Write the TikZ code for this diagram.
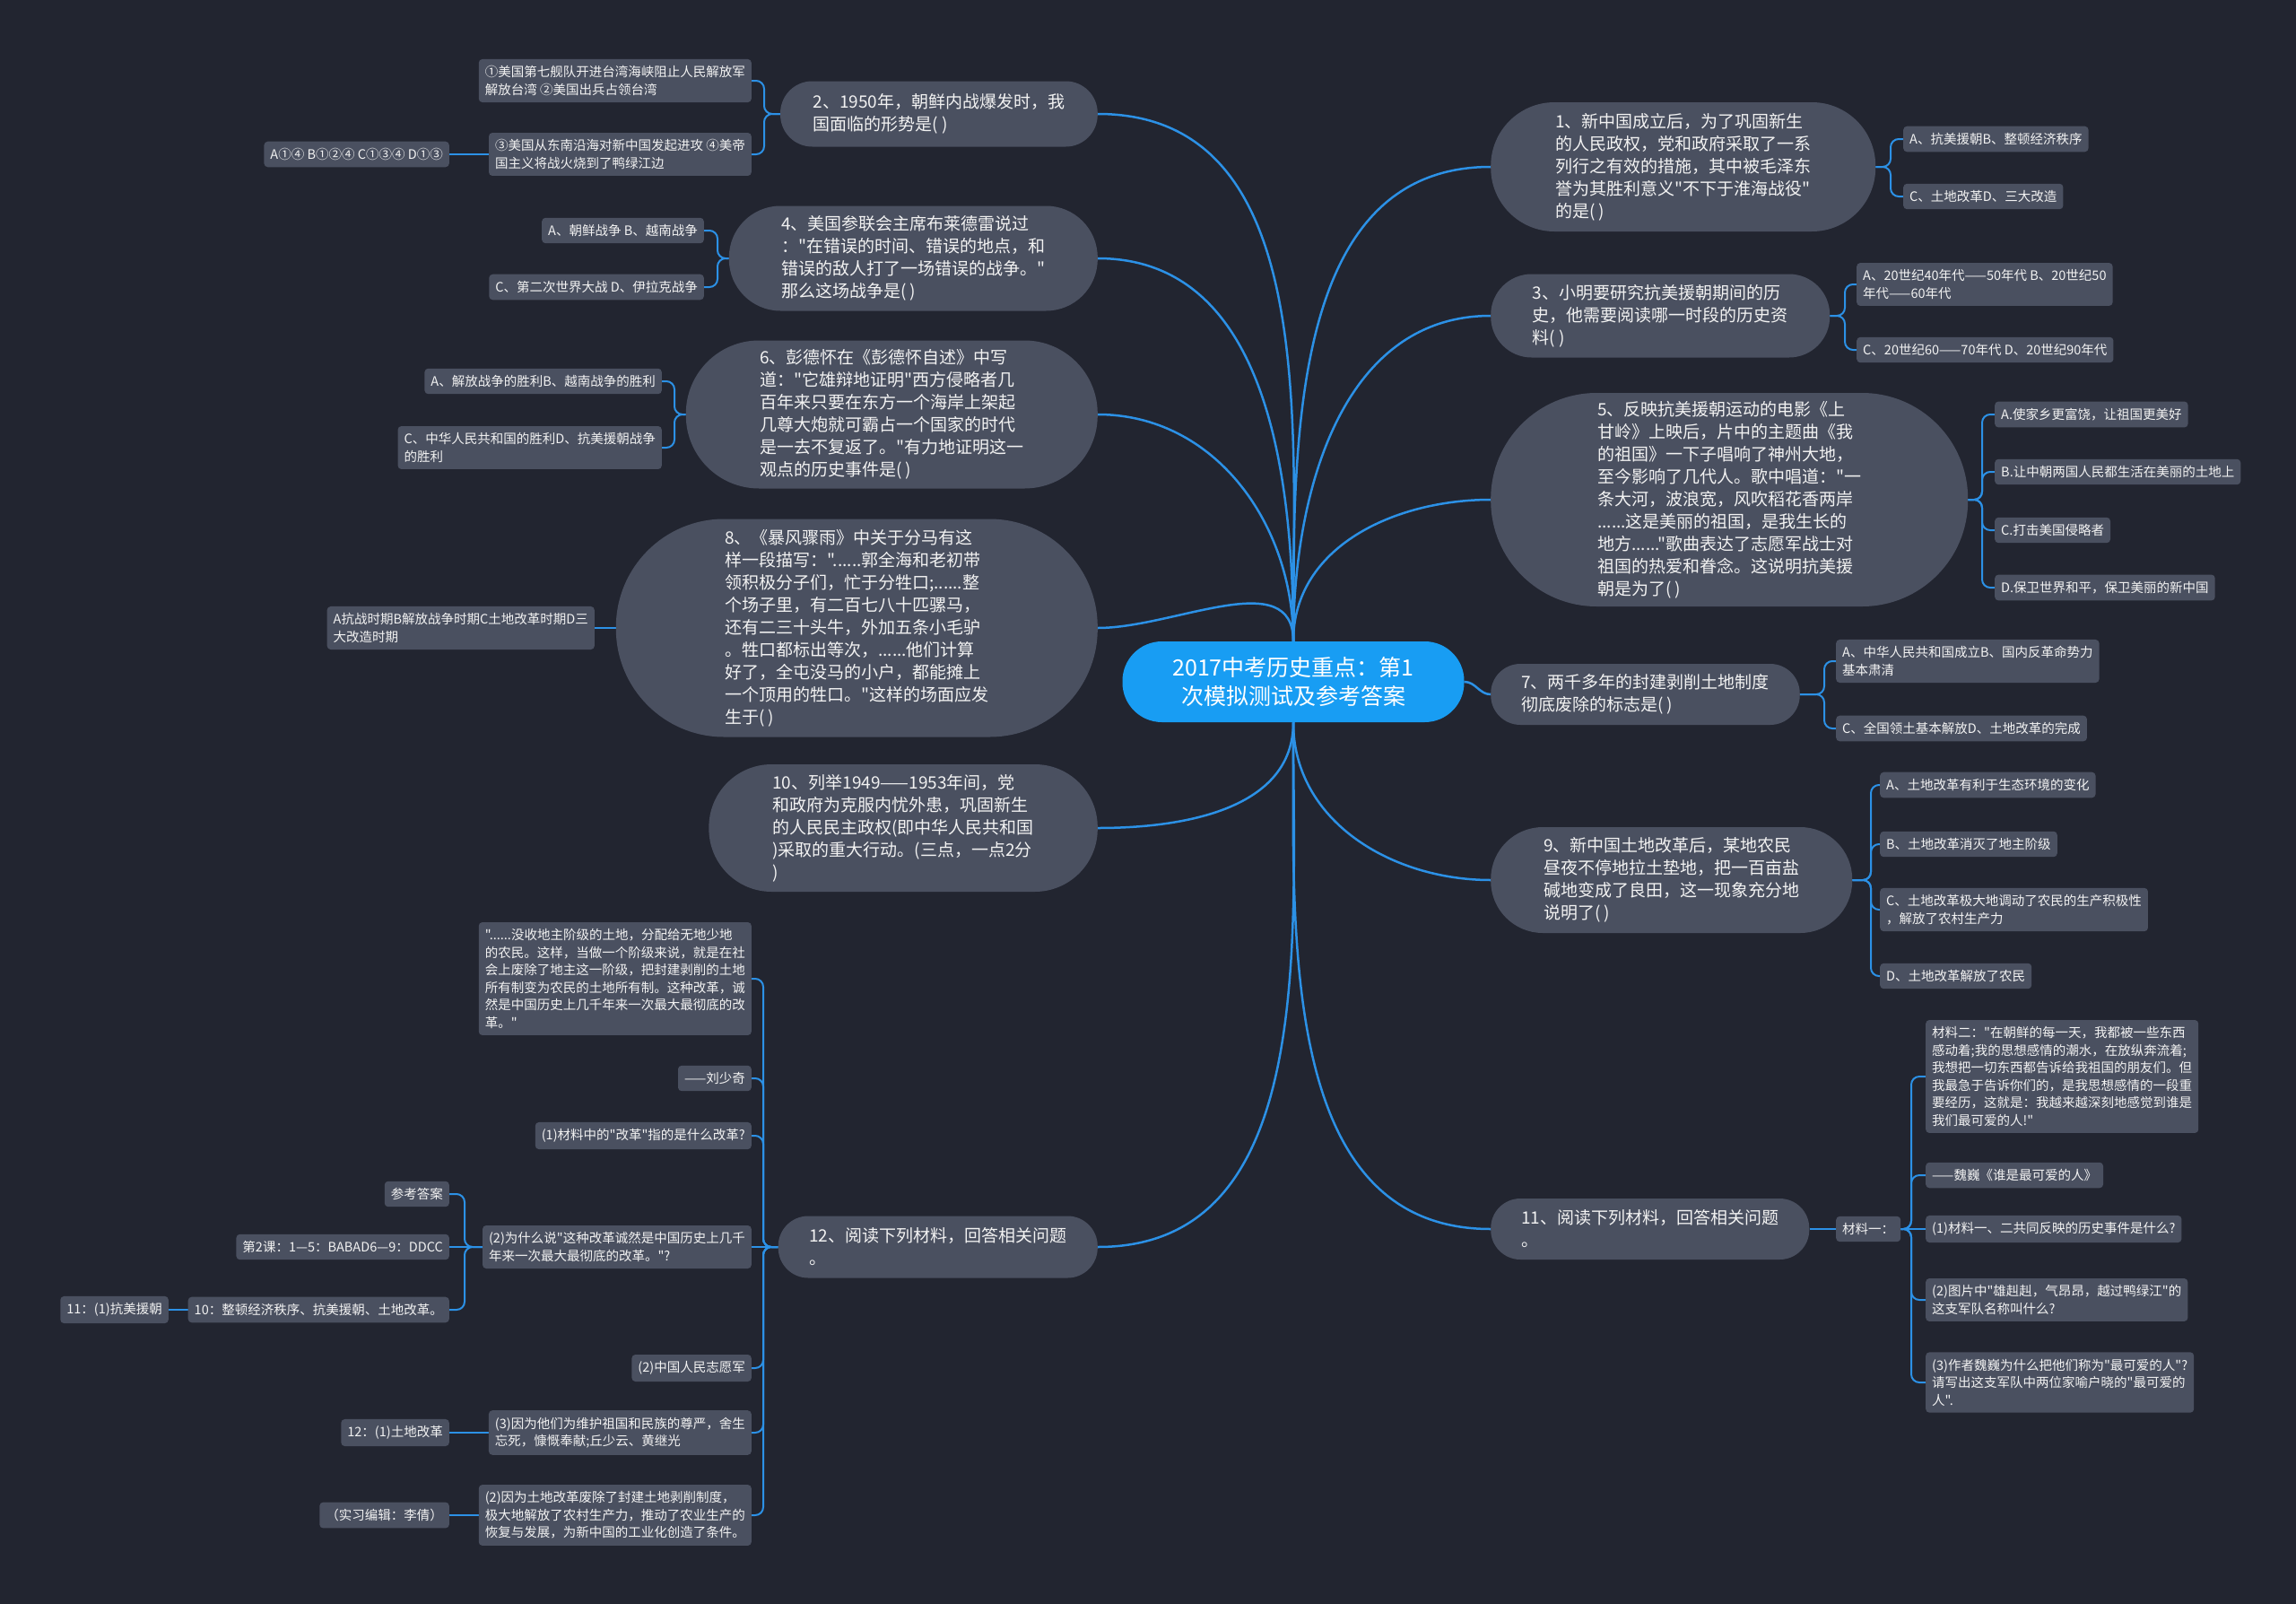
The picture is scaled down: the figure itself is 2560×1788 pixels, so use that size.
\documentclass[tikz,border=0pt]{standalone}
\usepackage{fontspec}
\setmainfont{Noto Sans CJK SC}[Ligatures=TeXOff]
\usetikzlibrary{calc, backgrounds}

\definecolor{bgcol}{HTML}{222530}
\definecolor{boxfill}{HTML}{4A5060}
\definecolor{linkblue}{HTML}{2C91E6}
\definecolor{rootblue}{HTML}{189DF3}
\definecolor{txtcol}{HTML}{F2F2F2}

\tikzset{
  hub/.style={fill=rootblue, text=white, align=center, font=\fontsize{25}{32}\selectfont,
    minimum width=381, minimum height=90, inner sep=0pt, rounded corners=44},
  topic/.style={fill=boxfill, text=txtcol, align=left, font=\fontsize{19}{25}\selectfont,
    minimum height=#1, inner xsep={#1/2}, inner ysep=0pt, rounded corners={#1/2-1}},
  leaf/.style={fill=boxfill, text=txtcol, align=left, font=\fontsize{14.5}{19.5}\selectfont,
    inner xsep=7pt, inner ysep=7.5pt, rounded corners=4pt},
  trunk/.style={draw=linkblue, line width=2.5pt},
  twig/.style={draw=linkblue, line width=2pt, rounded corners=9pt},
}

\begin{document}
\begin{tikzpicture}[x=1pt, y=1pt]
  \node[hub] (root) at (1442,-760) {2017中考历史重点：第1\\次模拟测试及参考答案};

  \node[topic=73, anchor=east] (n2) at (1224,-127) {2、1950年，朝鲜内战爆发时，我\\国面临的形势是( )};
  \node[topic=117, anchor=east] (n4) at (1224,-288) {4、美国参联会主席布莱德雷说过\\："在错误的时间、错误的地点，和\\错误的敌人打了一场错误的战争。"\\那么这场战争是( )};
  \node[topic=165, anchor=east] (n6) at (1224,-462) {6、彭德怀在《彭德怀自述》中写\\道："它雄辩地证明"西方侵略者几\\百年来只要在东方一个海岸上架起\\几尊大炮就可霸占一个国家的时代\\是一去不复返了。"有力地证明这一\\观点的历史事件是( )};
  \node[topic=243, anchor=east] (n8) at (1224,-700) {8、《暴风骤雨》中关于分马有这\\样一段描写："......郭全海和老初带\\领积极分子们，忙于分牲口;......整\\个场子里，有二百七八十匹骡马，\\还有二三十头牛，外加五条小毛驴\\。牲口都标出等次，......他们计算\\好了，全屯没马的小户，都能摊上\\一个顶用的牲口。"这样的场面应发\\生于( )};
  \node[topic=142, anchor=east] (n10) at (1224,-923) {10、列举1949——1953年间，党\\和政府为克服内忧外患，巩固新生\\的人民民主政权(即中华人民共和国\\)采取的重大行动。(三点，一点2分\\)};
  \node[topic=69, anchor=east] (n12) at (1224,-1390) {12、阅读下列材料，回答相关问题\\。};

  \node[topic=144, anchor=west] (n1) at (1662,-186) {1、新中国成立后，为了巩固新生\\的人民政权，党和政府采取了一系\\列行之有效的措施，其中被毛泽东\\誉为其胜利意义"不下于淮海战役"\\的是( )};
  \node[topic=93, anchor=west] (n3) at (1662,-352) {3、小明要研究抗美援朝期间的历\\史，他需要阅读哪一时段的历史资\\料( )};
  \node[topic=238, anchor=west] (n5) at (1662,-557) {5、反映抗美援朝运动的电影《上\\甘岭》上映后，片中的主题曲《我\\的祖国》一下子唱响了神州大地，\\至今影响了几代人。歌中唱道："一\\条大河，波浪宽，风吹稻花香两岸\\......这是美丽的祖国，是我生长的\\地方......"歌曲表达了志愿军战士对\\祖国的热爱和眷念。这说明抗美援\\朝是为了( )};
  \node[topic=68, anchor=west] (n7) at (1662,-774) {7、两千多年的封建剥削土地制度\\彻底废除的标志是( )};
  \node[topic=118, anchor=west] (n9) at (1662,-981) {9、新中国土地改革后，某地农民\\昼夜不停地拉土垫地，把一百亩盐\\碱地变成了良田，这一现象充分地\\说明了( )};
  \node[topic=68, anchor=west] (n11) at (1662,-1370) {11、阅读下列材料，回答相关问题\\。};

  \node[leaf, anchor=east] (l2a) at (838,-90) {①美国第七舰队开进台湾海峡阻止人民解放军\\解放台湾 ②美国出兵占领台湾};
  \node[leaf, anchor=east] (l2b) at (838,-172) {③美国从东南沿海对新中国发起进攻 ④美帝\\国主义将战火烧到了鸭绿江边};
  \node[leaf, anchor=east] (l2c) at (501,-172) {A①④ B①②④ C①③④ D①③};
  \node[leaf, anchor=east] (l4a) at (785,-257) {A、朝鲜战争 B、越南战争};
  \node[leaf, anchor=east] (l4b) at (785,-320) {C、第二次世界大战 D、伊拉克战争};
  \node[leaf, anchor=east] (l6a) at (738,-425) {A、解放战争的胜利B、越南战争的胜利};
  \node[leaf, anchor=east] (l6b) at (738,-499) {C、中华人民共和国的胜利D、抗美援朝战争\\的胜利};
  \node[leaf, anchor=east] (l8a) at (663,-700) {A抗战时期B解放战争时期C土地改革时期D三\\大改造时期};

  \node[leaf, anchor=east] (l12a) at (838,-1091) {"......没收地主阶级的土地，分配给无地少地\\的农民。这样，当做一个阶级来说，就是在社\\会上废除了地主这一阶级，把封建剥削的土地\\所有制变为农民的土地所有制。这种改革，诚\\然是中国历史上几千年来一次最大最彻底的改\\革。"};
  \node[leaf, anchor=east] (l12b) at (838,-1202) {——刘少奇};
  \node[leaf, anchor=east] (l12c) at (838,-1266) {(1)材料中的"改革"指的是什么改革?};
  \node[leaf, anchor=east] (l12d) at (838,-1390) {(2)为什么说"这种改革诚然是中国历史上几千\\年来一次最大最彻底的改革。"?};
  \node[leaf, anchor=east] (l12e) at (501,-1331) {参考答案};
  \node[leaf, anchor=east] (l12f) at (501,-1390) {第2课：1—5：BABAD6—9：DDCC};
  \node[leaf, anchor=east] (l12g) at (501,-1460) {10：整顿经济秩序、抗美援朝、土地改革。};
  \node[leaf, anchor=east] (l12h) at (188,-1460) {11：(1)抗美援朝};
  \node[leaf, anchor=east] (l12i) at (838,-1525) {(2)中国人民志愿军};
  \node[leaf, anchor=east] (l12j) at (838,-1597) {(3)因为他们为维护祖国和民族的尊严，舍生\\忘死，慷慨奉献;丘少云、黄继光};
  \node[leaf, anchor=east] (l12k) at (501,-1597) {12：(1)土地改革};
  \node[leaf, anchor=east] (l12l) at (838,-1689) {(2)因为土地改革废除了封建土地剥削制度，\\极大地解放了农村生产力，推动了农业生产的\\恢复与发展，为新中国的工业化创造了条件。};
  \node[leaf, anchor=east] (l12m) at (501,-1689) {（实习编辑：李倩）};

  \node[leaf, anchor=west] (l1a) at (2122,-155) {A、抗美援朝B、整顿经济秩序};
  \node[leaf, anchor=west] (l1b) at (2122,-219) {C、土地改革D、三大改造};
  \node[leaf, anchor=west] (l3a) at (2070,-317) {A、20世纪40年代——50年代 B、20世纪50\\年代——60年代};
  \node[leaf, anchor=west] (l3b) at (2070,-390) {C、20世纪60——70年代 D、20世纪90年代};
  \node[leaf, anchor=west] (l5a) at (2224,-462) {A.使家乡更富饶，让祖国更美好};
  \node[leaf, anchor=west] (l5b) at (2224,-526) {B.让中朝两国人民都生活在美丽的土地上};
  \node[leaf, anchor=west] (l5c) at (2224,-591) {C.打击美国侵略者};
  \node[leaf, anchor=west] (l5d) at (2224,-655) {D.保卫世界和平，保卫美丽的新中国};
  \node[leaf, anchor=west] (l7a) at (2047,-737) {A、中华人民共和国成立B、国内反革命势力\\基本肃清};
  \node[leaf, anchor=west] (l7b) at (2047,-812) {C、全国领土基本解放D、土地改革的完成};
  \node[leaf, anchor=west] (l9a) at (2096,-875) {A、土地改革有利于生态环境的变化};
  \node[leaf, anchor=west] (l9b) at (2096,-941) {B、土地改革消灭了地主阶级};
  \node[leaf, anchor=west] (l9c) at (2096,-1014) {C、土地改革极大地调动了农民的生产积极性\\，解放了农村生产力};
  \node[leaf, anchor=west] (l9d) at (2096,-1088) {D、土地改革解放了农民};
  \node[leaf, anchor=west] (l11a) at (2047,-1370) {材料一：};
  \node[leaf, anchor=west] (l11b) at (2147,-1200) {材料二："在朝鲜的每一天，我都被一些东西\\感动着;我的思想感情的潮水，在放纵奔流着;\\我想把一切东西都告诉给我祖国的朋友们。但\\我最急于告诉你们的，是我思想感情的一段重\\要经历，这就是：我越来越深刻地感觉到谁是\\我们最可爱的人!"};
  \node[leaf, anchor=west] (l11c) at (2147,-1310) {——魏巍《谁是最可爱的人》};
  \node[leaf, anchor=west] (l11d) at (2147,-1370) {(1)材料一、二共同反映的历史事件是什么?};
  \node[leaf, anchor=west] (l11e) at (2147,-1449) {(2)图片中"雄赳赳，气昂昂，越过鸭绿江"的\\这支军队名称叫什么?};
  \node[leaf, anchor=west] (l11f) at (2147,-1541) {(3)作者魏巍为什么把他们称为"最可爱的人"?\\请写出这支军队中两位家喻户晓的"最可爱的\\人".};

  \coordinate (b2) at ($(l2a.east)+(14,0)$);
  \coordinate (b4) at ($(l4a.east)+(15,0)$);
  \coordinate (b6) at ($(l6a.east)+(14,0)$);
  \coordinate (b12) at ($(l12a.east)+(13,0)$);
  \coordinate (b12d) at ($(l12e.east)+(17,0)$);
  \coordinate (b1) at ($(l1a.west)+(-14,0)$);
  \coordinate (b3) at ($(l3a.west)+(-13,0)$);
  \coordinate (b5) at ($(l5a.west)+(-14,0)$);
  \coordinate (b7) at ($(l7a.west)+(-13,0)$);
  \coordinate (b9) at ($(l9a.west)+(-10,0)$);
  \coordinate (b11) at ($(l11b.west)+(-16,0)$);

  \begin{scope}[on background layer]
    \fill[bgcol] (0,0) rectangle (2560,-1788);

    \draw[trunk] (root.north) to[out=90,in=0] (n2.east);
    \draw[trunk] (root.north) to[out=90,in=0] (n4.east);
    \draw[trunk] (root.north) to[out=90,in=0] (n6.east);
    \draw[trunk] (root.north) to[out=90,in=0] (n8.east);
    \draw[trunk] (root.south) to[out=-90,in=0] (n10.east);
    \draw[trunk] (root.south) to[out=-90,in=0] (n12.east);
    \draw[trunk] (root.north) to[out=90,in=180] (n1.west);
    \draw[trunk] (root.north) to[out=90,in=180] (n3.west);
    \draw[trunk] (root.north) to[out=90,in=180] (n5.west);
    \draw[trunk] (root.east) to[out=0,in=180] (n7.west);
    \draw[trunk] (root.south) to[out=-90,in=180] (n9.west);
    \draw[trunk] (root.south) to[out=-90,in=180] (n11.west);

    \draw[twig] (n2.west) -- (n2.west -| b2) |- (l2a.east);
    \draw[twig] (n2.west) -- (n2.west -| b2) |- (l2b.east);
    \draw[twig] (l2b.west) -- (l2c.east);
    \draw[twig] (n4.west) -- (n4.west -| b4) |- (l4a.east);
    \draw[twig] (n4.west) -- (n4.west -| b4) |- (l4b.east);
    \draw[twig] (n6.west) -- (n6.west -| b6) |- (l6a.east);
    \draw[twig] (n6.west) -- (n6.west -| b6) |- (l6b.east);
    \draw[twig] (n8.west) -- (l8a.east);

    \draw[twig] (n12.west) -- (n12.west -| b12) |- (l12a.east);
    \draw[twig] (n12.west) -- (n12.west -| b12) |- (l12b.east);
    \draw[twig] (n12.west) -- (n12.west -| b12) |- (l12c.east);
    \draw[twig] (n12.west) -- (l12d.east);
    \draw[twig] (n12.west) -- (n12.west -| b12) |- (l12i.east);
    \draw[twig] (n12.west) -- (n12.west -| b12) |- (l12j.east);
    \draw[twig] (n12.west) -- (n12.west -| b12) |- (l12l.east);
    \draw[twig] (l12d.west) -- (l12d.west -| b12d) |- (l12e.east);
    \draw[twig] (l12d.west) -- (l12f.east);
    \draw[twig] (l12d.west) -- (l12d.west -| b12d) |- (l12g.east);
    \draw[twig] (l12g.west) -- (l12h.east);
    \draw[twig] (l12j.west) -- (l12k.east);
    \draw[twig] (l12l.west) -- (l12m.east);

    \draw[twig] (n1.east) -- (n1.east -| b1) |- (l1a.west);
    \draw[twig] (n1.east) -- (n1.east -| b1) |- (l1b.west);
    \draw[twig] (n3.east) -- (n3.east -| b3) |- (l3a.west);
    \draw[twig] (n3.east) -- (n3.east -| b3) |- (l3b.west);
    \draw[twig] (n5.east) -- (n5.east -| b5) |- (l5a.west);
    \draw[twig] (n5.east) -- (n5.east -| b5) |- (l5b.west);
    \draw[twig] (n5.east) -- (n5.east -| b5) |- (l5c.west);
    \draw[twig] (n5.east) -- (n5.east -| b5) |- (l5d.west);
    \draw[twig] (n7.east) -- (n7.east -| b7) |- (l7a.west);
    \draw[twig] (n7.east) -- (n7.east -| b7) |- (l7b.west);
    \draw[twig] (n9.east) -- (n9.east -| b9) |- (l9a.west);
    \draw[twig] (n9.east) -- (n9.east -| b9) |- (l9b.west);
    \draw[twig] (n9.east) -- (n9.east -| b9) |- (l9c.west);
    \draw[twig] (n9.east) -- (n9.east -| b9) |- (l9d.west);
    \draw[twig] (n11.east) -- (l11a.west);
    \draw[twig] (l11a.east) -- (l11a.east -| b11) |- (l11b.west);
    \draw[twig] (l11a.east) -- (l11a.east -| b11) |- (l11c.west);
    \draw[twig] (l11a.east) -- (l11d.west);
    \draw[twig] (l11a.east) -- (l11a.east -| b11) |- (l11e.west);
    \draw[twig] (l11a.east) -- (l11a.east -| b11) |- (l11f.west);
  \end{scope}
\end{tikzpicture}
\end{document}
